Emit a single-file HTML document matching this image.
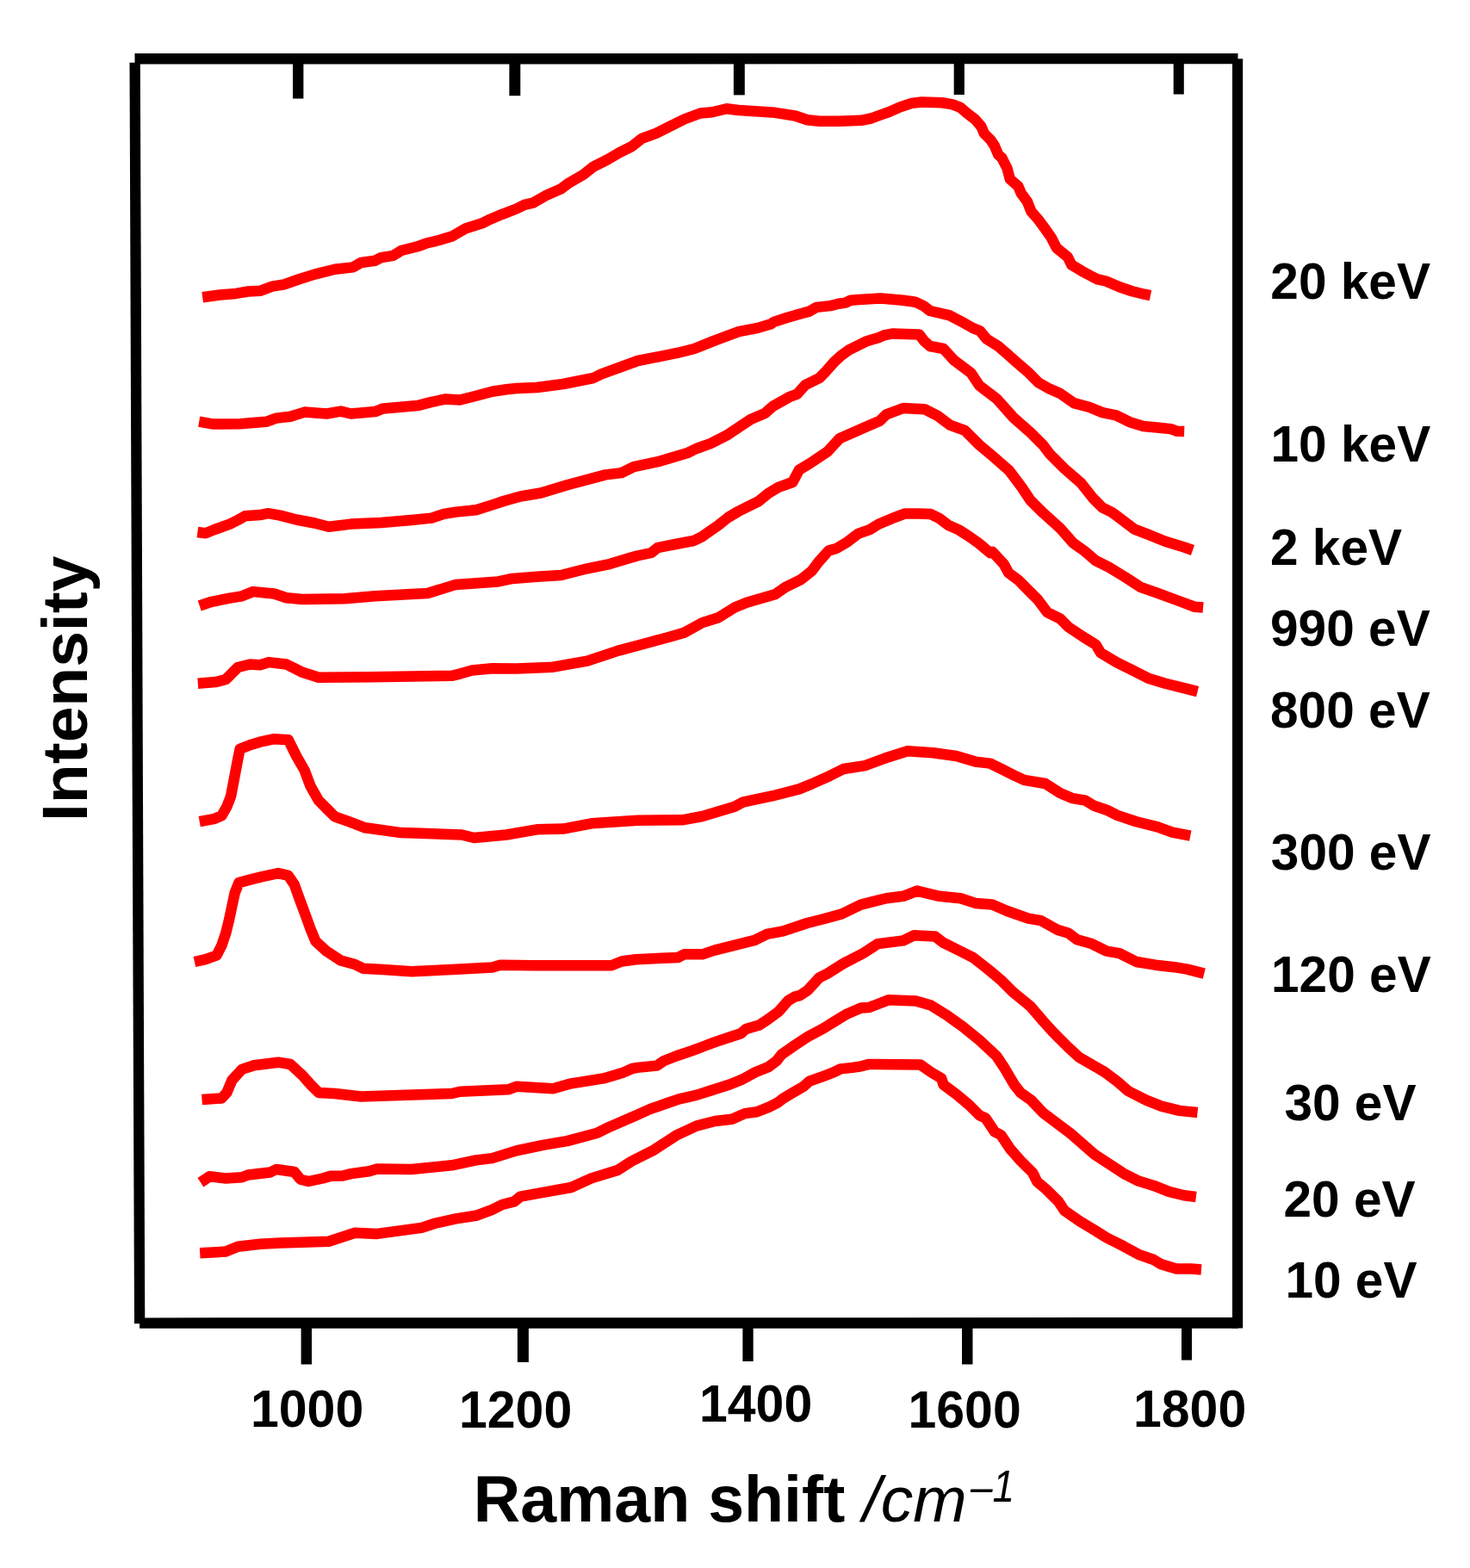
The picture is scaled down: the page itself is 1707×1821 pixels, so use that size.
<!DOCTYPE html>
<html><head><meta charset="utf-8"><title>Raman spectra</title><style>
html,body{margin:0;padding:0;background:#fff;}
svg{display:block;}
text{font-family:"Liberation Sans",Arial,Helvetica,sans-serif;font-weight:bold;fill:#000;}
.it{font-style:italic;font-weight:normal;}
</style></head><body>
<svg width="1707" height="1821" viewBox="0 0 1707 1821">
<rect width="1707" height="1821" fill="#fff"/>
<g fill="#000">
<polygon points="156.5,62.1 1437.5,62.1 1437.5,74.3 156.5,74.5"/>
<polygon points="150.5,72.8 162.8,72.8 168.3,1537.3 156,1537.3"/>
<polygon points="1431,68.3 1443.2,68.3 1443.2,1542.4 1431,1542.4"/>
<polygon points="162.1,1530.4 1437.9,1530 1437.9,1542.8 162.1,1542.8"/>
<rect x="340" y="72" width="12.4" height="42.5"/>
<rect x="591.4" y="72" width="12.9" height="39.2"/>
<rect x="851.9" y="72" width="12.9" height="38.4"/>
<rect x="1107.7" y="72" width="12.2" height="38"/>
<rect x="1362.7" y="72" width="12.1" height="37.5"/>
<rect x="349.6" y="1540" width="12.4" height="44.5"/>
<rect x="600.9" y="1540" width="13" height="42"/>
<rect x="862.4" y="1540" width="12.3" height="41"/>
<rect x="1117" y="1540" width="12.5" height="44.5"/>
<rect x="1372" y="1540" width="12" height="39.6"/>
</g>
<g font-size="59">
<text transform="translate(291,1657) scale(1,1.036)">1000</text>
<text transform="translate(533,1657.5) scale(1,1.036)">1200</text>
<text transform="translate(812,1650.5) scale(1,1.036)">1400</text>
<text transform="translate(1054.5,1657.5) scale(1,1.036)">1600</text>
<text transform="translate(1316,1657) scale(1,1.036)">1800</text>
</g>
<g font-size="58.6">
<text x="1475.3" y="347">20 keV</text>
<text x="1475.5" y="536.4">10 keV</text>
<text x="1475" y="655.7">2 keV</text>
<text x="1475" y="750.3">990 eV</text>
<text x="1475" y="845">800 eV</text>
<text x="1475.8" y="1010.3">300 eV</text>
<text x="1476" y="1152">120 eV</text>
<text x="1491.4" y="1301">30 eV</text>
<text x="1490.5" y="1412.8">20 eV</text>
<text x="1492.4" y="1507.2">10 eV</text>
</g>
<text x="549.8" y="1767.2" font-size="75.4">Raman shift</text>
<text x="1002" y="1767.3" font-size="75" class="it">/cm</text>
<text transform="translate(1126.9,1744.4) scale(0.885,1)" font-size="52" class="it">–1</text>
<text transform="translate(100.8,954) rotate(-90)" font-size="75">Intensity</text>
<g fill="none" stroke="#f00" stroke-width="12.5" stroke-linejoin="round">
<path d="M235.2,345.3 L255.1,342.5 L273.9,340.9 L288.0,338.5 L302.0,337.8 L316.0,332.7 L330.0,330.3 L346.5,324.5 L365.3,318.6 L388.7,312.8 L409.8,310.4 L419.2,305.0 L435.6,302.7 L442.6,299.2 L456.7,296.8 L466.0,291.0 L484.8,286.3 L494.2,282.8 L510.6,278.8 L524.6,274.6 L541.0,265.2 L559.8,259.3 L569.1,254.7 L583.2,248.8 L599.6,242.5 L609.0,237.8 L618.7,235.7 L635.1,226.4 L651.6,219.3 L660.9,212.3 L677.3,202.9 L689.0,193.6 L705.4,185.4 L719.5,177.2 L733.6,170.1 L745.3,160.8 L761.7,154.9 L775.7,147.9 L794.5,138.5 L813.2,131.5 L827.3,130.3 L843.7,126.3 L857.8,128.0 L881.2,129.6 L900.0,130.8 L923.4,134.5 L937.4,139.2 L951.5,140.8 L974.9,140.8 L1000.0,139.8 L1011.7,137.5 L1021.1,134.0 L1032.8,129.9 L1044.5,124.6 L1058.6,119.9 L1070.3,118.5 L1093.7,119.3 L1105.4,121.1 L1114.8,124.6 L1123.0,131.6 L1132.4,138.7 L1139.4,146.9 L1142.9,155.1 L1150.0,162.1 L1154.7,169.1 L1159.3,179.7 L1163.5,183.5 L1169.4,195.2 L1172.9,208.1 L1182.3,216.3 L1185.8,224.5 L1192.8,233.9 L1197.5,245.6 L1205.7,255.0 L1212.7,264.4 L1220.9,276.1 L1226.8,287.8 L1239.7,298.3 L1244.4,307.7 L1256.1,314.7 L1273.6,324.1 L1284.2,326.5 L1300.6,333.5 L1314.7,338.2 L1328.7,341.7 L1336.0,343.2"/>
<path d="M231.2,489.6 L248.1,492.6 L278.6,492.2 L309.0,489.8 L320.8,485.6 L337.2,483.7 L353.6,478.6 L379.3,480.5 L395.7,477.6 L407.5,480.5 L435.6,478.1 L445.0,474.4 L484.8,471.1 L501.2,466.9 L517.6,463.4 L534.0,464.5 L552.8,459.8 L571.5,454.7 L587.9,452.3 L600.0,451.0 L623.4,450.0 L653.9,446.0 L689.0,439.0 L698.4,434.3 L740.6,419.0 L787.5,409.7 L806.2,405.0 L829.6,395.6 L857.8,385.1 L880.0,380.9 L895.2,376.2 L898.7,373.9 L912.8,369.2 L929.2,364.5 L939.8,361.6 L948.0,356.9 L964.4,355.1 L973.7,352.8 L981.9,351.6 L987.8,348.7 L997.2,348.1 L1022.9,346.4 L1048.7,348.7 L1062.8,350.7 L1072.2,355.1 L1080.0,361.0 L1103.0,366.4 L1117.8,374.3 L1130.0,381.1 L1137.9,384.2 L1145.8,393.7 L1158.5,401.6 L1169.5,411.1 L1182.2,422.2 L1193.3,431.7 L1205.9,444.3 L1217.0,450.7 L1231.2,457.0 L1247.1,468.1 L1264.5,472.8 L1280.3,479.1 L1296.1,482.3 L1311.9,490.2 L1327.7,495.0 L1343.5,496.5 L1359.4,498.1 L1367.0,500.8 L1375.2,501.1"/>
<path d="M229.4,618.0 L238.7,619.2 L250.5,614.5 L266.9,608.6 L276.2,604.0 L284.4,599.3 L302.0,598.1 L311.4,596.2 L325.4,598.6 L344.2,603.5 L365.3,607.5 L381.7,611.7 L407.5,608.6 L442.6,607.0 L477.8,604.0 L501.2,601.6 L515.3,596.9 L529.3,594.6 L552.8,592.2 L571.5,586.4 L585.6,581.7 L604.3,576.5 L628.1,572.5 L658.6,563.2 L703.1,551.4 L721.8,549.1 L735.9,542.1 L764.0,536.2 L799.2,525.7 L808.6,521.0 L825.0,515.1 L843.7,505.7 L871.8,487.0 L888.2,480.0 L897.6,471.8 L916.3,461.2 L925.7,457.7 L935.1,447.2 L951.5,439.0 L958.5,431.9 L969.0,420.0 L977.2,412.6 L985.4,406.7 L1006.5,396.2 L1020.6,392.1 L1027.6,389.1 L1037.0,387.4 L1067.5,388.5 L1073.3,396.2 L1080.0,402.0 L1095.6,405.0 L1108.0,418.6 L1127.6,433.3 L1137.5,448.1 L1157.2,462.9 L1176.9,485.0 L1196.5,502.2 L1211.3,517.0 L1218.7,526.8 L1235.9,544.1 L1255.6,561.3 L1268.7,578.0 L1280.0,589.4 L1291.2,595.0 L1298.7,600.6 L1317.5,614.7 L1334.3,621.2 L1353.1,628.7 L1371.8,634.4 L1385.0,639.0"/>
<path d="M231.7,703.5 L245.8,698.8 L266.9,694.6 L280.9,692.3 L293.8,687.1 L318.4,689.5 L332.5,694.2 L351.2,696.0 L400.4,695.3 L435.6,692.3 L496.5,689.0 L529.3,678.9 L578.5,675.4 L595.0,671.9 L623.4,669.7 L651.6,668.0 L682.0,660.3 L707.8,655.1 L731.2,648.1 L740.0,645.5 L756.4,642.0 L763.4,636.2 L786.9,631.5 L805.6,628.0 L815.0,623.3 L826.7,615.1 L833.7,610.4 L845.4,601.0 L857.2,594.0 L868.9,588.1 L880.6,582.3 L892.3,572.9 L904.0,565.9 L920.4,560.0 L928.0,545.6 L939.8,538.6 L960.9,524.5 L974.9,509.3 L1002.1,497.3 L1021.8,488.7 L1029.2,481.3 L1048.9,474.0 L1073.5,475.2 L1088.3,482.6 L1103.0,493.6 L1120.3,499.8 L1137.5,517.0 L1152.2,529.3 L1171.9,546.5 L1186.7,566.2 L1196.5,581.0 L1211.3,595.7 L1231.2,613.7 L1246.2,630.6 L1259.4,640.0 L1272.5,651.2 L1287.5,658.7 L1306.2,670.0 L1325.0,682.2 L1343.7,688.7 L1371.8,699.0 L1386.8,704.7 L1397.1,705.6"/>
<path d="M229.8,793.7 L250.5,792.1 L262.2,789.0 L269.2,782.0 L276.2,775.0 L290.3,771.5 L302.0,772.2 L312.6,769.1 L332.5,771.5 L341.9,776.2 L351.2,780.8 L370.0,786.7 L430.9,786.2 L524.6,784.8 L531.7,783.2 L548.1,778.5 L571.5,776.2 L600.0,776.5 L642.2,774.7 L682.0,767.6 L717.2,755.9 L752.3,746.5 L778.1,739.5 L794.5,734.8 L815.6,723.1 L834.3,717.2 L853.1,705.5 L867.1,699.7 L899.9,690.3 L911.7,682.1 L930.0,673.1 L942.9,662.8 L950.6,652.5 L962.2,639.6 L971.2,637.0 L984.1,629.3 L997.0,619.6 L1009.9,615.1 L1020.2,608.7 L1035.7,602.2 L1051.1,596.4 L1066.6,596.4 L1080.8,597.1 L1091.1,602.2 L1101.4,610.0 L1113.0,615.1 L1123.3,621.6 L1136.2,630.6 L1150.0,642.2 L1152.5,640.9 L1165.6,655.0 L1171.2,665.3 L1182.5,673.7 L1193.7,685.0 L1205.0,696.2 L1216.2,711.2 L1231.2,718.7 L1240.6,728.1 L1257.5,739.4 L1272.5,748.7 L1278.1,758.1 L1296.9,769.3 L1315.6,778.7 L1334.3,788.1 L1353.1,793.7 L1371.8,798.4 L1390.6,803.1"/>
<path d="M231.7,954.2 L248.1,951.2 L257.5,947.2 L263.4,936.7 L268.0,925.0 L271.6,906.2 L275.1,887.5 L278.6,869.9 L290.3,865.2 L302.0,861.7 L318.4,858.2 L334.8,859.3 L344.2,878.1 L353.6,894.5 L360.6,913.2 L370.0,929.6 L379.3,939.0 L388.7,948.4 L405.1,954.2 L423.9,961.3 L466.0,967.1 L536.3,969.5 L550.4,973.0 L587.9,969.5 L623.4,963.3 L653.9,962.6 L686.7,956.3 L740.6,952.7 L792.1,952.3 L815.6,948.0 L853.1,936.8 L862.4,931.7 L897.6,924.2 L928.0,916.4 L942.1,910.6 L963.2,901.2 L979.6,893.0 L1004.6,889.1 L1031.7,879.2 L1053.8,872.3 L1083.3,874.3 L1110.4,878.0 L1132.6,884.6 L1149.8,886.6 L1162.1,892.7 L1176.9,900.1 L1189.2,905.8 L1213.8,910.0 L1231.0,921.0 L1245.7,927.2 L1260.5,929.7 L1270.4,935.8 L1285.1,940.7 L1297.4,946.9 L1319.6,954.3 L1344.2,960.4 L1361.4,966.6 L1382.3,970.7"/>
<path d="M225.9,1117.0 L238.7,1114.2 L251.6,1109.5 L257.5,1097.8 L262.2,1083.7 L265.7,1069.7 L269.2,1053.3 L272.7,1036.9 L277.4,1025.1 L290.3,1021.6 L304.4,1018.1 L323.1,1014.1 L334.8,1016.9 L341.9,1027.5 L347.7,1043.9 L354.7,1062.6 L360.6,1079.0 L366.5,1093.1 L379.3,1104.8 L395.7,1115.4 L412.2,1120.0 L421.5,1124.7 L445.0,1125.9 L477.8,1128.3 L524.6,1125.9 L571.5,1123.6 L580.9,1120.8 L620.0,1121.2 L710.1,1121.2 L721.8,1116.5 L738.3,1114.2 L787.5,1111.9 L794.5,1108.3 L815.6,1108.3 L829.6,1103.6 L876.5,1091.9 L890.6,1084.9 L909.3,1081.4 L937.4,1072.0 L956.2,1067.3 L977.3,1061.5 L999.7,1050.6 L1029.2,1043.2 L1048.9,1040.8 L1064.9,1034.6 L1090.7,1040.8 L1115.3,1043.2 L1132.6,1048.9 L1152.2,1050.6 L1169.5,1058.0 L1194.1,1066.6 L1208.8,1069.1 L1228.5,1080.1 L1240.8,1083.8 L1250.7,1091.2 L1267.9,1096.1 L1285.1,1104.7 L1299.9,1107.2 L1319.6,1117.0 L1341.7,1120.7 L1363.9,1123.2 L1378.6,1125.6 L1398.3,1130.6"/>
<path d="M234.5,1277.0 L257.5,1275.4 L263.4,1268.9 L269.2,1254.8 L280.9,1241.9 L295.0,1237.2 L323.1,1233.7 L337.2,1236.0 L351.2,1248.9 L360.6,1259.5 L370.0,1268.9 L388.7,1270.0 L419.2,1273.5 L487.1,1271.2 L524.6,1270.0 L534.0,1267.7 L590.2,1265.3 L599.6,1261.8 L642.2,1264.2 L663.3,1258.3 L700.8,1252.4 L724.2,1245.4 L733.6,1241.2 L740.0,1239.9 L762.8,1237.6 L770.5,1232.3 L785.7,1226.2 L804.0,1220.1 L816.2,1215.5 L828.3,1210.9 L846.6,1204.8 L860.3,1200.3 L866.4,1194.9 L881.7,1190.4 L892.3,1183.5 L904.5,1174.4 L915.2,1162.2 L922.8,1157.6 L928.9,1156.1 L938.0,1150.0 L951.5,1135.3 L960.9,1130.6 L979.6,1118.9 L1002.1,1107.2 L1019.4,1096.1 L1048.9,1092.4 L1061.2,1086.3 L1085.8,1087.5 L1095.6,1094.9 L1112.9,1103.5 L1130.1,1112.1 L1147.3,1125.6 L1162.1,1138.0 L1176.9,1152.7 L1196.5,1168.7 L1211.3,1185.9 L1223.6,1199.5 L1240.8,1216.7 L1253.1,1227.8 L1282.7,1245.0 L1297.4,1256.1 L1310.0,1267.0 L1330.9,1277.6 L1348.5,1284.6 L1369.6,1289.9 L1390.6,1292.0"/>
<path d="M232.9,1373.2 L243.4,1366.2 L262.2,1368.5 L280.9,1367.3 L288.0,1364.5 L313.7,1361.5 L320.8,1358.0 L341.9,1361.0 L348.9,1369.7 L358.3,1372.0 L374.7,1368.5 L384.0,1365.7 L398.1,1365.5 L407.5,1363.1 L428.6,1360.3 L437.9,1357.5 L477.8,1358.0 L524.6,1353.3 L552.8,1347.4 L571.5,1345.1 L599.6,1336.4 L630.5,1329.8 L658.6,1325.1 L693.7,1315.7 L707.8,1308.7 L740.0,1294.7 L755.2,1287.9 L775.0,1281.0 L788.7,1276.4 L808.5,1271.9 L825.3,1266.5 L846.6,1259.7 L861.9,1253.6 L877.1,1245.2 L892.3,1239.1 L901.5,1232.3 L907.6,1224.6 L922.8,1214.0 L938.0,1204.1 L956.3,1194.2 L968.5,1186.6 L983.7,1177.4 L1000.0,1170.6 L1009.5,1169.9 L1031.7,1161.3 L1063.7,1162.6 L1080.9,1167.5 L1100.6,1179.8 L1117.8,1192.1 L1137.5,1208.1 L1157.2,1226.5 L1167.0,1241.3 L1178.0,1260.0 L1185.0,1268.8 L1197.3,1277.6 L1211.4,1292.5 L1229.0,1305.7 L1243.0,1316.2 L1257.1,1328.5 L1271.1,1340.8 L1288.7,1352.3 L1306.3,1363.7 L1322.1,1371.6 L1339.7,1376.9 L1357.3,1383.9 L1374.8,1388.3 L1388.9,1390.0"/>
<path d="M232.2,1455.2 L262.2,1453.6 L276.2,1447.7 L302.0,1444.7 L325.4,1443.5 L381.7,1441.8 L412.2,1431.8 L437.9,1432.9 L489.5,1425.9 L505.9,1420.5 L529.3,1415.4 L552.8,1411.8 L571.5,1404.8 L583.2,1399.0 L597.3,1395.4 L604.3,1389.6 L630.5,1384.8 L663.3,1379.0 L686.7,1368.4 L717.2,1359.0 L733.6,1348.5 L759.3,1335.6 L785.1,1318.7 L808.7,1307.6 L830.3,1302.0 L850.0,1299.7 L865.0,1293.1 L879.0,1291.2 L893.1,1285.6 L902.5,1280.9 L910.0,1275.3 L921.2,1268.7 L932.5,1262.2 L940.0,1255.6 L945.6,1253.6 L956.3,1249.8 L968.5,1245.2 L976.1,1241.4 L989.8,1239.9 L1000.0,1238.3 L1009.5,1235.9 L1068.6,1236.4 L1080.9,1245.0 L1093.2,1252.4 L1095.6,1259.8 L1110.4,1270.8 L1125.2,1283.1 L1137.5,1295.4 L1144.6,1298.7 L1155.1,1314.5 L1162.2,1318.0 L1172.7,1333.8 L1185.0,1347.9 L1199.1,1361.9 L1204.4,1372.5 L1214.9,1381.3 L1229.0,1395.3 L1236.0,1405.9 L1253.6,1418.2 L1271.1,1428.7 L1285.2,1437.5 L1304.5,1447.2 L1322.1,1456.8 L1339.7,1463.0 L1348.5,1468.3 L1366.0,1473.5 L1383.6,1473.5 L1395.0,1474.4"/>
</g>
</svg>
</body></html>
